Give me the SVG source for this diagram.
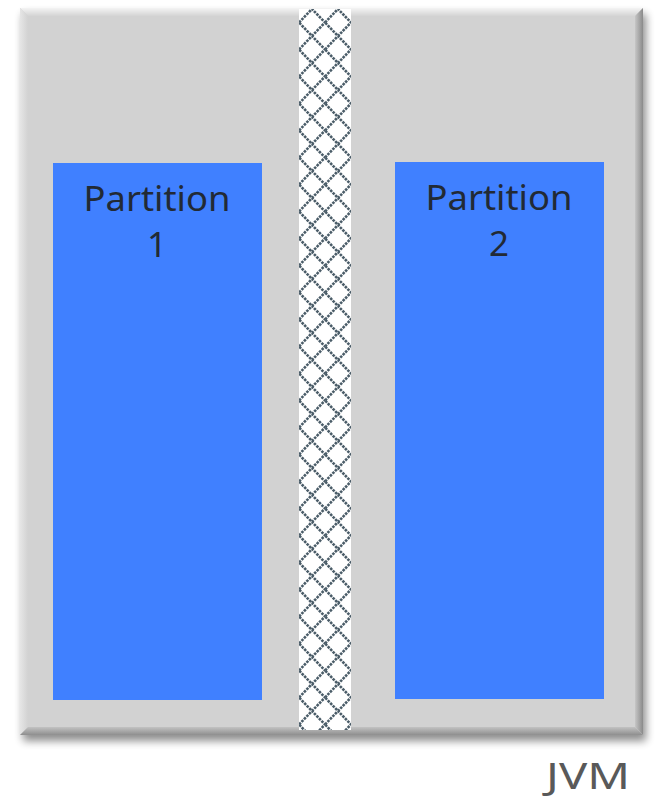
<svg xmlns="http://www.w3.org/2000/svg" width="656" height="800" viewBox="0 0 656 800">
<style>
.lbl{font-family:"Noto Sans","Open Sans",sans-serif;font-size:35px;fill:#222a35;text-anchor:middle}
.part{fill:#4080ff}
</style>
<defs>
<pattern id="lattice" x="299" y="9" width="26" height="27" patternUnits="userSpaceOnUse">
<rect width="26" height="27" fill="#ffffff"/>
<path d="M0,13.5 L13,0 L26,13.5 L13,27 Z" fill="none" stroke="#4a5c68" stroke-width="2.6" stroke-dasharray="2.6 1"/>
</pattern>
<linearGradient id="topBevel" x1="0" y1="0" x2="0" y2="1"><stop offset="0" stop-color="#f4f4f4"/><stop offset="1" stop-color="#d4d4d4"/></linearGradient>
<linearGradient id="leftBevel" x1="0" y1="0" x2="1" y2="0"><stop offset="0" stop-color="#e6e6e6"/><stop offset="1" stop-color="#d2d2d2"/></linearGradient>
<linearGradient id="rightBevel" x1="0" y1="0" x2="1" y2="0"><stop offset="0" stop-color="#c6c6c6"/><stop offset="1" stop-color="#8a8a8a"/></linearGradient>
<linearGradient id="botBevel" x1="0" y1="0" x2="0" y2="1"><stop offset="0" stop-color="#c2c2c2"/><stop offset="1" stop-color="#8e8e8e"/></linearGradient>
<filter id="shadow" x="-5%" y="-5%" width="115%" height="115%">
<feGaussianBlur in="SourceAlpha" stdDeviation="4"/>
<feOffset dx="3" dy="6" result="b"/>
<feComponentTransfer><feFuncA type="linear" slope="0.45"/></feComponentTransfer>
<feMerge><feMergeNode/><feMergeNode in="SourceGraphic"/></feMerge>
</filter>
</defs>
<g id="jvm">
<rect x="20" y="8" width="623" height="727" fill="#d2d2d2" filter="url(#shadow)"/>
<polygon points="20,8 643,8 635,16 28,16" fill="url(#topBevel)"/>
<polygon points="20,8 28,16 28,727 20,735" fill="url(#leftBevel)"/>
<polygon points="643,8 643,735 635,727 635,16" fill="url(#rightBevel)"/>
<polygon points="20,735 643,735 635,727 28,727" fill="url(#botBevel)"/>
<rect x="28" y="16" width="607" height="711" fill="#d2d2d2"/>
<rect x="299" y="9" width="52" height="721" fill="url(#lattice)"/>
<text x="588" y="789" font-family="Noto Sans,Open Sans,sans-serif" font-size="37" fill="#595959" text-anchor="middle" textLength="84" lengthAdjust="spacingAndGlyphs">JVM</text>
</g>
<g id="partition1">
<rect class="part" x="53" y="163" width="209" height="537"/>
<text class="lbl" x="157" y="211" textLength="147" lengthAdjust="spacingAndGlyphs">Partition</text>
<text class="lbl" x="157" y="257">1</text>
</g>
<g id="partition2">
<rect class="part" x="395" y="162" width="209" height="537"/>
<text class="lbl" x="499" y="210" textLength="147" lengthAdjust="spacingAndGlyphs">Partition</text>
<text class="lbl" x="499" y="256">2</text>
</g>
<g id="connectors"/>
</svg>
